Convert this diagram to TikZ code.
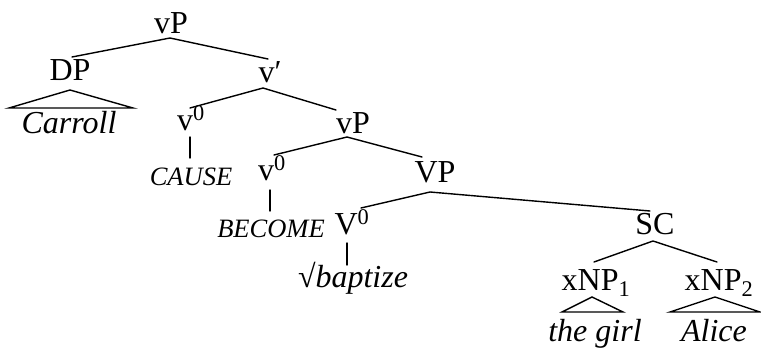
\documentclass[tikz,border=0pt]{standalone}
\usepackage{fontspec}
\setmainfont{Liberation Serif}
\begin{document}
\begin{tikzpicture}[x=1pt,y=-1pt,
  lbl/.style={inner sep=0pt,anchor=base,font=\fontsize{32}{37}\selectfont},
  lex/.style={inner sep=0pt,anchor=base,font=\fontsize{32}{37}\selectfont\itshape},
  feat/.style={inner sep=0pt,anchor=base,font=\fontsize{26.5}{30}\selectfont\itshape},
  branch/.style={line width=1.4pt,line cap=round},
  roof/.style={line width=1.4pt,line join=miter}]
\useasboundingbox (0,0) rectangle (761,351);

% category labels
\node[lbl] (vp1) at (171,33) {vP};
\node[lbl] (dp)  at (70,80) {DP};
\node[lbl] (vbar) at (270,82) {v′};
\node[lbl] (v1)  at (191,130) {v\textsuperscript{0}};
\node[lbl] (vp2) at (353,133) {vP};
\node[lbl] (v2)  at (272,180) {v\textsuperscript{0}};
\node[lbl] (VP)  at (435,182) {VP};
\node[lbl] (V0)  at (352,234) {V\textsuperscript{0}};
\node[lbl] (sc)  at (655,234) {SC};
\node[lbl] (np1) at (596,290) {xNP\textsubscript{1}};
\node[lbl] (np2) at (719,290) {xNP\textsubscript{2}};

% terminals
\node[lex]  (carroll) at (69,133) {Carroll};
\node[feat] (cause)   at (191,185) {CAUSE};
\node[feat] (become)  at (271,237) {BECOME};
\node[lex]  (root)    at (353,287) {{\upshape √}baptize};
\node[lex]  (girl)    at (595,341) {the girl};
\node[lex]  (alice)   at (714,341) {Alice};

% branching points (bottom of mother) and attachment points (top of daughter)
\coordinate (vp1-b)  at (170,38);
\coordinate (dp-t)   at (72,57);
\coordinate (vbar-t) at (268,59);
\coordinate (vbar-b) at (263,88);
\coordinate (v1-t)   at (190,108);
\coordinate (vp2-t)  at (336,110);
\coordinate (v1-b)   at (190,137);
\coordinate (cause-t) at (190,158);
\coordinate (vp2-b)  at (347,137);
\coordinate (v2-t)   at (274,155);
\coordinate (VP-t)   at (422,157);
\coordinate (v2-b)   at (270,190);
\coordinate (become-t) at (270,211);
\coordinate (VP-b)   at (430,192);
\coordinate (V0-t)   at (361,208);
\coordinate (sc-t)   at (650,211);
\coordinate (V0-b)   at (347,243);
\coordinate (root-t) at (347,265);
\coordinate (sc-b)   at (653,241);
\coordinate (np1-t)  at (594,262);
\coordinate (np2-t)  at (717,262);

% branches
\draw[branch] (dp-t) -- (vp1-b) -- (vbar-t);
\draw[branch] (v1-t) -- (vbar-b) -- (vp2-t);
\draw[branch] (v1-b) -- (cause-t);
\draw[branch] (v2-t) -- (vp2-b) -- (VP-t);
\draw[branch] (v2-b) -- (become-t);
\draw[branch] (V0-t) -- (VP-b) -- (sc-t);
\draw[branch] (V0-b) -- (root-t);
\draw[branch] (np1-t) -- (sc-b) -- (np2-t);

% roofs over unanalysed phrases
\draw[roof] (70,90) -- (133,108) -- (9,108) -- cycle;
\draw[roof] (592,297) -- (623,312) -- (562,312) -- cycle;
\draw[roof] (715,297) -- (760,312) -- (670,312) -- cycle;
\end{tikzpicture}
\end{document}
